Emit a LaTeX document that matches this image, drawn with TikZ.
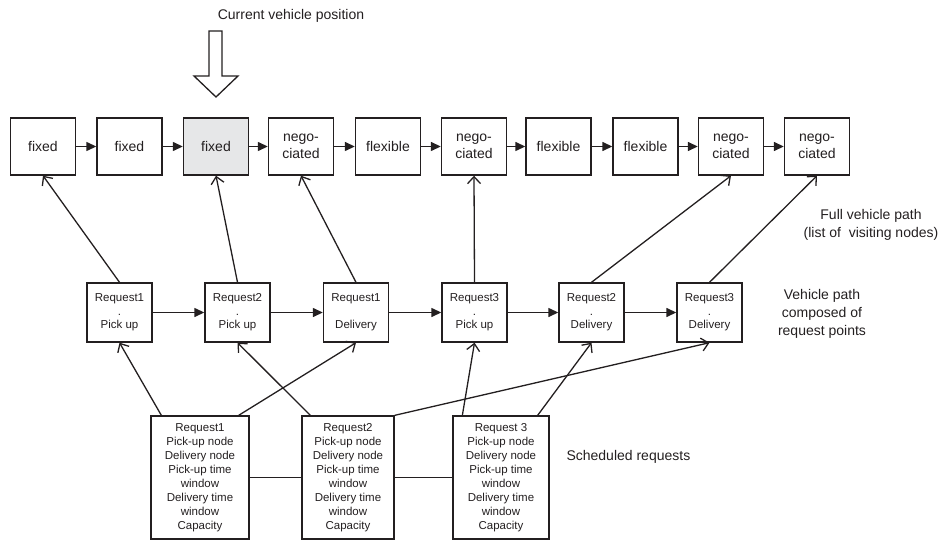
\documentclass[tikz,border=0pt]{standalone}
\usepackage{fontspec}
\setmainfont{Liberation Sans}
\usetikzlibrary{arrows.meta,calc}
\definecolor{ink}{RGB}{35,31,32}
\definecolor{current}{RGB}{230,231,232}
\tikzset{
  pathbox/.style={draw=ink,fill=#1,line width=1.4pt,minimum width=65pt,minimum height=57pt,
    align=center,font=\fontsize{14}{17}\selectfont,text=ink,inner sep=1pt},
  pathbox/.default=white,
  reqpoint/.style={draw=ink,line width=1.4pt,minimum width=65pt,minimum height=59pt,
    align=center,font=\fontsize{11.5}{13.5}\selectfont,text=ink,inner sep=1pt},
  request/.style={draw=ink,line width=1.3pt,minimum width=#1,minimum height=123pt,
    align=center,font=\fontsize{11.5}{14}\selectfont,text=ink,inner sep=1pt},
  chain/.style={-{Triangle[length=10pt,width=9pt]},line width=1.4pt,draw=ink},
  assign/.style={-{Straight Barb[length=7pt,width=13pt]},line width=1.3pt,draw=ink},
  tie/.style={line width=1.3pt,draw=ink},
  tag/.style={font=\fontsize{14}{18}\selectfont,text=ink,align=center},
}

\begin{document}
\begin{tikzpicture}[x=1pt,y=-1pt]
  \useasboundingbox (0,0) rectangle (939,540);
  % full vehicle path
  \foreach \i/\x/\fc/\txt in {1/43/white/fixed,2/129.5/white/fixed,3/216/current/fixed,
      4/301/white/{nego-\\ciated},5/388/white/flexible,6/474/white/{nego-\\ciated},
      7/558.5/white/flexible,8/645.5/white/flexible,9/731/white/{nego-\\ciated},
      10/817/white/{nego-\\ciated}}
    \node[pathbox=\fc] (t\i) at (\x,146.5) {\txt};
  \foreach \i [count=\j from 2] in {1,...,9}
    \draw[chain] (t\i) -- (t\j);
  % current position
  \node[tag] (now) at (291,16) {Current vehicle position};
  \draw[line width=1.3pt,draw=ink,fill=white] (209,31) -- (222,31) -- (222,76) -- (238,76)
    -- (216,97) -- (194,76) -- (209,76) -- cycle;
  % request points
  \foreach \i/\x/\txt in {1/119.5/{Request1\\.\\Pick up},2/237.5/{Request2\\.\\Pick up},
      3/356/{Request1\\[13.5pt]Delivery},4/474.5/{Request3\\.\\Pick up},
      5/591.5/{Request2\\.\\Delivery},6/709.5/{Request3\\.\\Delivery}}
    \node[reqpoint] (m\i) at (\x,312.5) {\txt};
  \foreach \i [count=\j from 2] in {1,...,5}
    \draw[chain] (m\i) -- (m\j);
  \draw[assign] (m1.north) -- (t1.south);
  \draw[assign] (m2.north) -- (t3.south);
  \draw[assign] (m3.north) -- (t4.south);
  \draw[assign] (m4.north) -- (t6.south);
  \draw[assign] (m5.north) -- (t9.south);
  \draw[assign] (m6.north) -- (t10.south);
  % scheduled requests
  \node[request=98pt] (b1) at (200,477.5) {Request1\\Pick-up node\\Delivery node\\Pick-up time\\window\\Delivery time\\window\\Capacity};
  \node[request=92pt] (b2) at (348,477.5) {Request2\\Pick-up node\\Delivery node\\Pick-up time\\window\\Delivery time\\window\\Capacity};
  \node[request=96pt] (b3) at (501,477.5) {Request 3\\Pick-up node\\Delivery node\\Pick-up time\\window\\Delivery time\\window\\Capacity};
  \draw[tie] (b1) -- (b2);
  \draw[tie] (b2) -- (b3);
  \draw[assign] ([xshift=11pt]b1.north west) -- (m1.south);
  \draw[assign] ([xshift=-11pt]b1.north east) -- (m3.south);
  \draw[assign] ([xshift=9pt]b2.north west) -- (m2.south);
  \draw[assign] (b2.north east) -- (m6.south);
  \draw[assign] ([xshift=10pt]b3.north west) -- (m4.south);
  \draw[assign] ([xshift=-12pt]b3.north east) -- (m5.south);
  % labels
  \node[tag] (full) at (871,225) {Full vehicle path\\(list of~ visiting nodes)};
  \node[tag] (vpath) at (822,314) {Vehicle path\\composed of\\request points};
  \node[tag,anchor=west] (sched) at (563,457) {Scheduled requests};
\end{tikzpicture}
\end{document}
